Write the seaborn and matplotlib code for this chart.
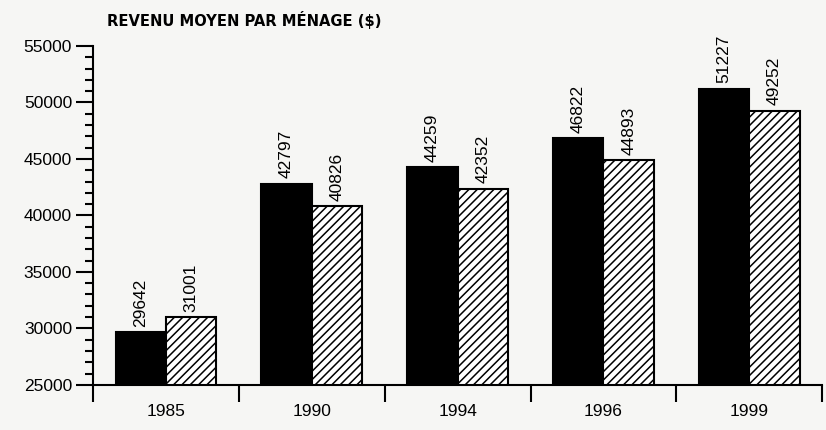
import pandas as pd
import matplotlib
matplotlib.use("Agg")
import matplotlib.pyplot as plt
from matplotlib.ticker import MultipleLocator
import seaborn as sns

# ─── Data ────────────────────────────────────────────────────────────────────
years   = ["1985", "1990", "1994", "1996", "1999"]
serie_a = [29642, 42797, 44259, 46822, 51227]   # barres noires
serie_b = [31001, 40826, 42352, 44893, 49252]   # barres hachurées

df = pd.DataFrame({
    "annee": years * 2,
    "revenu": serie_a + serie_b,
    "serie": ["A"] * len(years) + ["B"] * len(years),
})

BG = "#f6f6f4"

sns.set_style("ticks")
plt.rcParams.update({
    "font.family": ["Liberation Sans", "DejaVu Sans"],
    "hatch.linewidth": 1.1,
    "axes.linewidth": 1.5,
    "text.color": "black",
    "xtick.color": "black",
    "ytick.color": "black",
    "axes.edgecolor": "black",
})

fig = plt.figure(figsize=(8.26, 4.30), dpi=100, facecolor=BG)
ax = fig.add_axes([0.1125, 0.105, 0.883, 0.788])
ax.set_facecolor(BG)

sns.barplot(data=df, x="annee", y="revenu", hue="serie",
            palette=["black", "white"], saturation=1, width=0.69, gap=0,
            edgecolor="black", linewidth=1.5, legend=False, ax=ax)

for bar in ax.containers[1]:
    bar.set_hatch("////")

# value labels
for cont in ax.containers:
    for bar in cont:
        h = bar.get_height()
        ax.annotate(f"{h:.0f}", (bar.get_x() + bar.get_width() / 2, h),
                    xytext=(0, 4), textcoords="offset points",
                    ha="center", va="bottom", rotation=90, fontsize=12.5,
                    color="black")

ax.set_ylim(25000, 55000)
ax.set_xlim(-0.5, 4.5)
ax.yaxis.set_major_locator(MultipleLocator(5000))
ax.yaxis.set_minor_locator(MultipleLocator(1000))
ax.tick_params(axis="y", which="major", length=12, width=1.5, labelsize=12.5, pad=3)
ax.tick_params(axis="y", which="minor", length=6, width=1.5)

# category separators as x ticks, labels centred in between
ax.set_xticks([-0.5, 0.5, 1.5, 2.5, 3.5, 4.5])
ax.set_xticklabels([])
ax.set_xticks(range(len(years)), minor=True)
ax.set_xticklabels(years, minor=True, fontsize=12.5)
ax.tick_params(axis="x", which="major", length=12, width=1.5)
ax.tick_params(axis="x", which="minor", length=0, pad=14)

ax.set_xlabel("")
ax.set_ylabel("")
sns.despine(ax=ax)

fig.text(0.13, 0.953, "REVENU MOYEN PAR MÉNAGE ($)", fontsize=11.8,
         fontweight="bold", fontstretch="condensed", ha="left", va="center",
         family=["DejaVu Sans"], color="black")

plt.savefig("out.png", dpi=100, facecolor=BG)
plt.close()
